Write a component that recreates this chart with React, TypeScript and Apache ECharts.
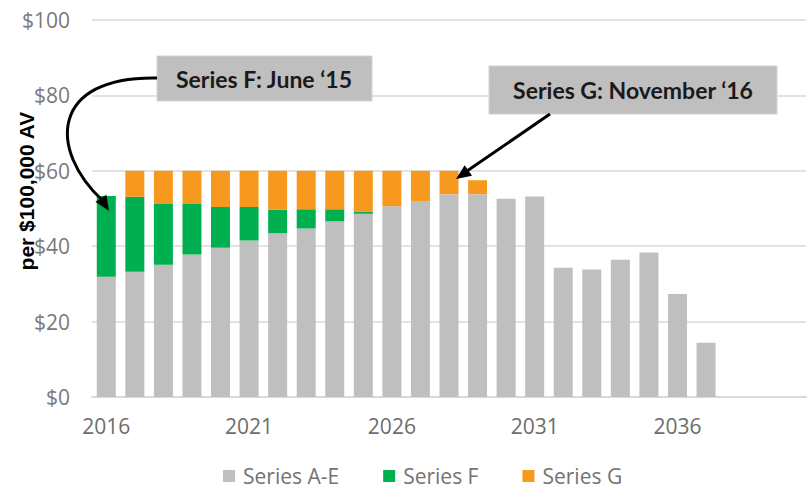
import React, { useEffect, useRef } from "react";
import * as echarts from "echarts";

const years = [
  "2016", "2017", "2018", "2019", "2020", "2021", "2022", "2023", "2024", "2025",
  "2026", "2027", "2028", "2029", "2030", "2031", "2032", "2033", "2034", "2035",
  "2036", "2037", "2038", "2039", "2040",
];
const seriesAE = [
  31.9, 33.2, 35.1, 37.8, 39.6, 41.5, 43.4, 44.7, 46.6, 48.6,
  50.6, 52.0, 53.8, 53.8, 52.6, 53.2, 34.3, 33.8, 36.4, 38.3,
  27.3, 14.4, null, null, null,
];
const seriesF = [
  21.4, 19.9, 16.1, 13.4, 10.8, 8.9, 6.3, 5.1, 3.2, 0.6,
  0, 0, 0, 0, 0, 0, 0, 0, 0, 0, 0, 0, null, null, null,
];
const seriesG = [
  0, 6.9, 8.8, 8.8, 9.6, 9.6, 10.3, 10.2, 10.2, 10.8,
  9.4, 8.0, 6.2, 3.7, 0, 0, 0, 0, 0, 0, 0, 0, null, null, null,
];
const seriesNames = ["Series A-E", "Series F", "Series G"];
const yTicks = { min: 0, max: 100, interval: 20 };
const axisTitle = "per $100,000 AV";
const noteF = "Series F: June \u201815";
const noteG = "Series G: November \u201816";

const colors = ["#bfbfbf", "#00b050", "#f7991f"];
const tickFont = "'Open Sans', Lato, sans-serif";

export default function App() {
  const ref = useRef<HTMLDivElement>(null);
  useEffect(() => {
    if (!ref.current) return;
    const chart = echarts.init(ref.current, undefined, { renderer: "svg" });
    const data = [seriesAE, seriesF, seriesG];
    const arrowHead = (tip: number[], dir: number[], len: number, half: number) => {
      const l = Math.hypot(dir[0], dir[1]);
      const d = [dir[0] / l, dir[1] / l];
      const b = [tip[0] - len * d[0], tip[1] - len * d[1]];
      const n = [-d[1], d[0]];
      return [tip, [b[0] + half * n[0], b[1] + half * n[1]], [b[0] - half * n[0], b[1] - half * n[1]]];
    };
    const noteStyle = {
      fontFamily: "Lato, 'Open Sans', sans-serif",
      fontWeight: "bold",
      fontSize: 23,
      fill: "#1a1a1a",
      align: "center",
      verticalAlign: "middle",
    };
    chart.setOption({
      animation: false,
      backgroundColor: "#ffffff",
      grid: { left: 92, right: 4, top: 20, bottom: 95, containLabel: false },
      legend: {
        left: 223,
        top: 464,
        padding: 0,
        itemWidth: 12,
        itemHeight: 12,
        itemGap: 44,
        icon: "rect",
        data: seriesNames,
        textStyle: {
          color: "#737373",
          fontSize: 21,
          lineHeight: 24,
          fontFamily: tickFont,
          padding: [0, 0, 0, 3],
        },
      },
      xAxis: {
        type: "category",
        data: years,
        axisTick: { show: false },
        axisLine: { lineStyle: { color: "#d9d9d9", width: 2 } },
        axisLabel: {
          interval: 4,
          color: "#6d6d6d",
          fontSize: 21,
          fontFamily: tickFont,
          margin: 18,
        },
      },
      yAxis: {
        type: "value",
        min: yTicks.min,
        max: yTicks.max,
        interval: yTicks.interval,
        axisLine: { show: false },
        axisTick: { show: false },
        splitLine: { lineStyle: { color: "#d9d9d9", width: 1.5 } },
        axisLabel: {
          formatter: (v: number) => "$" + v,
          color: "#7a7a7a",
          fontSize: 21,
          fontFamily: tickFont,
          margin: 22,
        },
      },
      series: seriesNames.map((name, i) => ({
        name,
        type: "bar",
        stack: "total",
        barWidth: 19,
        data: data[i],
        itemStyle: { color: colors[i] },
      })),
      graphic: [
        {
          type: "text",
          x: 26,
          y: 191,
          rotation: Math.PI / 2,
          style: {
            text: axisTitle,
            fontFamily: "'Liberation Sans', Arial, sans-serif",
            fontWeight: "bold",
            fontSize: 21,
            fill: "#000000",
            align: "center",
            verticalAlign: "middle",
          },
          z: 100,
        },
        {
          type: "rect",
          shape: { x: 157, y: 56, width: 215, height: 45 },
          style: { fill: "#bfbfbf", stroke: "#d4d4d4", lineWidth: 1 },
          z: 100,
        },
        {
          type: "text",
          x: 264,
          y: 79,
          style: { ...noteStyle, text: noteF },
          z: 101,
        },
        {
          type: "rect",
          shape: { x: 489, y: 66, width: 288, height: 48 },
          style: { fill: "#bfbfbf", stroke: "#d4d4d4", lineWidth: 1 },
          z: 100,
        },
        {
          type: "text",
          x: 633,
          y: 90,
          style: { ...noteStyle, text: noteG },
          z: 101,
        },
        {
          type: "bezierCurve",
          shape: { x1: 157, y1: 78, cpx1: 50, cpy1: 76, cpx2: 48, cpy2: 150, x2: 103, y2: 201 },
          style: { stroke: "#000000", lineWidth: 3, fill: "none" },
          z: 100,
        },
        {
          type: "polygon",
          shape: { points: arrowHead([109, 211], [16, 25], 15, 6.5) },
          style: { fill: "#000000" },
          z: 100,
        },
        {
          type: "line",
          shape: { x1: 550, y1: 114, x2: 467, y2: 171 },
          style: { stroke: "#000000", lineWidth: 3 },
          z: 100,
        },
        {
          type: "polygon",
          shape: { points: arrowHead([456, 179], [-93, 64], 15, 6.5) },
          style: { fill: "#000000" },
          z: 100,
        },
      ],
    });
    return () => chart.dispose();
  }, []);
  return (
    <div
      ref={ref}
      style={{ position: "fixed", left: 0, top: 0, width: 810, height: 492 }}
    />
  );
}
